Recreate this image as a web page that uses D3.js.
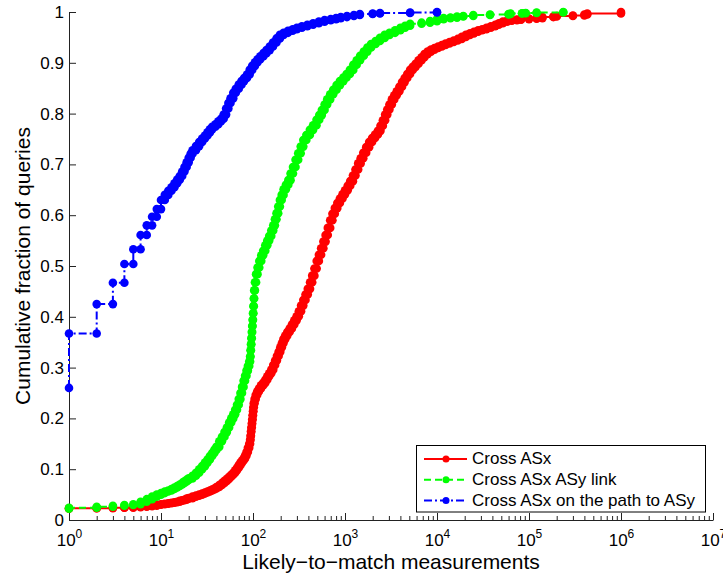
<!DOCTYPE html>
<html>
<head>
<meta charset="utf-8">
<script src="https://cdn.jsdelivr.net/npm/d3@7"></script>
<style>
  html, body { margin: 0; padding: 0; background: #fff; }
  svg { display: block; }
  text { font-family: "Liberation Sans", Arial, Helvetica, sans-serif; fill: #000; }
</style>
</head>
<body>
<svg id="chart" width="723" height="575"></svg>
<script>
// Empirical CDFs of likely-to-match measurements per query.
// Each entry: [measurement count, cumulative fraction of queries at that count].
// The *ZeroFrac values are the fractions of queries with zero measurements.
const redZeroFrac = 0.022;
const redCdf = [
  [1,0.023],[2,0.023],[3,0.024],[4,0.024],[5,0.025],[6,0.026],[7,0.027],[8,0.028],[9,0.030],[10,0.031],
  [11,0.032],[12,0.033],[13,0.034],[14,0.035],[15,0.036],[16,0.038],[17,0.039],[18,0.040],[19,0.042],[20,0.043],
  [22,0.046],[24,0.048],[26,0.050],[28,0.052],[30,0.054],[32,0.056],[34,0.058],[36,0.060],[38,0.062],[40,0.065],
  [43,0.069],[46,0.073],[49,0.077],[52,0.081],[55,0.085],[58,0.089],[61,0.093],[64,0.098],[67,0.103],[70,0.108],
  [73,0.113],[76,0.117],[79,0.121],[82,0.127],[85,0.134],[88,0.142],[91,0.150],[93,0.158],[94,0.166],[95,0.174],
  [96,0.182],[97,0.190],[98,0.198],[99,0.206],[100,0.214],[101,0.222],[102,0.230],[104,0.238],[107,0.246],[111,0.253],
  [116,0.259],[122,0.265],[129,0.270],[136,0.276],[143,0.283],[150,0.289],[158,0.296],[166,0.305],[174,0.314],[182,0.323],
  [190,0.331],[198,0.340],[206,0.348],[214,0.356],[224,0.363],[236,0.370],[250,0.377],[265,0.385],[281,0.393],[298,0.401],
  [315,0.411],[333,0.422],[352,0.433],[372,0.444],[394,0.455],[417,0.468],[440,0.481],[465,0.495],[492,0.510],[520,0.522],
  [550,0.535],[582,0.548],[615,0.561],[650,0.575],[690,0.590],[730,0.603],[775,0.614],[825,0.624],[880,0.633],[940,0.641],
  [1000,0.649],[1070,0.658],[1140,0.667],[1220,0.678],[1300,0.690],[1390,0.702],[1480,0.712],[1580,0.723],[1700,0.734],[1830,0.744],
  [1970,0.752],[2120,0.759],[2280,0.766],[2430,0.776],[2580,0.787],[2730,0.798],[2880,0.808],[3040,0.818],[3230,0.828],[3430,0.836],
  [3650,0.844],[3900,0.853],[4170,0.862],[4450,0.870],[4750,0.878],[5100,0.886],[5450,0.892],[5850,0.898],[6300,0.905],[6800,0.911],
  [7300,0.917],[7900,0.922],[8600,0.926],[9400,0.929],[10300,0.932],[11300,0.935],[12400,0.938],[13700,0.941],[15200,0.944],[16800,0.947],
  [18600,0.951],[20600,0.955],[22800,0.958],[25200,0.961],[28000,0.964],[31000,0.966],[34500,0.969],[38500,0.972],[43000,0.975],[47000,0.978],
  [52000,0.981],[58000,0.983],[65000,0.984],[74000,0.985],[82000,0.986],[100000,0.987],[121000,0.988],[140000,0.990],[184000,0.991],[200000,0.992],
  [300000,0.993],[400000,0.995],[430000,0.997],[1000000,1.0]
];

const greenZeroFrac = 0.022;
const greenCdf = [
  [1,0.024],[2,0.026],[3,0.028],[4,0.0295],[5,0.031],[6,0.036],[7,0.041],[8,0.046],[9,0.050],[10,0.053],
  [11,0.056],[12,0.058],[13,0.061],[14,0.064],[15,0.067],[16,0.070],[17,0.073],[18,0.076],[19,0.079],[20,0.082],
  [22,0.087],[24,0.093],[26,0.100],[28,0.106],[30,0.113],[32,0.119],[34,0.126],[36,0.132],[38,0.138],[40,0.144],
  [43,0.155],[46,0.164],[49,0.173],[52,0.182],[55,0.192],[58,0.200],[61,0.208],[64,0.217],[67,0.227],[70,0.238],
  [73,0.250],[76,0.262],[79,0.274],[82,0.284],[85,0.294],[88,0.303],[91,0.312],[93,0.322],[94,0.334],[95,0.346],
  [96,0.358],[97,0.370],[98,0.382],[99,0.394],[100,0.407],[101,0.421],[102,0.436],[103,0.452],[105,0.468],[108,0.484],
  [112,0.497],[117,0.510],[123,0.521],[129,0.530],[136,0.541],[143,0.550],[150,0.559],[158,0.570],[166,0.580],[173,0.592],
  [180,0.604],[188,0.617],[196,0.630],[205,0.640],[215,0.651],[228,0.660],[242,0.669],[256,0.682],[272,0.695],[290,0.709],
  [310,0.722],[330,0.735],[352,0.748],[380,0.758],[415,0.768],[450,0.777],[490,0.788],[525,0.797],[560,0.807],[600,0.818],
  [640,0.828],[690,0.838],[745,0.847],[810,0.856],[880,0.864],[960,0.871],[1040,0.878],[1130,0.886],[1230,0.896],[1340,0.905],
  [1460,0.914],[1600,0.922],[1750,0.930],[1920,0.937],[2150,0.943],[2400,0.949],[2700,0.955],[3050,0.959],[3500,0.964],[4000,0.969],
  [4500,0.973],[5100,0.977],[6800,0.979],[8400,0.982],[10000,0.986],[11800,0.988],[14000,0.989],[16500,0.991],[19300,0.992],[24800,0.994],
  [37700,0.995],[60000,0.996],[63000,0.997],[84000,0.9975],[92000,0.998],[121000,0.999],[236000,1.0]
];

const blueZeroFrac = 0.26;
const blueCdf = [
  [1,0.367],[2,0.425],[3,0.467],[4,0.504],[5,0.533],[6,0.561],[7,0.580],[8,0.597],[9,0.612],[10,0.630],
  [11,0.640],[12,0.648],[13,0.655],[14,0.663],[15,0.670],[16,0.677],[17,0.686],[18,0.695],[19,0.704],[20,0.713],
  [21,0.721],[22,0.728],[24,0.736],[26,0.744],[28,0.751],[30,0.757],[32,0.763],[34,0.769],[36,0.774],[39,0.779],
  [42,0.785],[45,0.790],[48,0.798],[51,0.810],[54,0.821],[57,0.830],[61,0.841],[65,0.849],[70,0.857],[75,0.864],
  [80,0.870],[86,0.877],[92,0.886],[98,0.894],[105,0.901],[112,0.907],[120,0.913],[130,0.919],[140,0.925],[152,0.932],
  [165,0.940],[180,0.948],[196,0.955],[215,0.959],[240,0.963],[270,0.966],[300,0.969],[340,0.972],[390,0.975],[450,0.978],
  [520,0.981],[600,0.984],[700,0.986],[800,0.988],[900,0.990],[1050,0.992],[1250,0.994],[1450,0.996],[2000,0.997],[2400,0.998],
  [5100,0.999],[10000,1.0]
];

const seriesNames = ["Cross ASx", "Cross ASx ASy link", "Cross ASx on the path to ASy"];
const yTicks = [0, 0.1, 0.2, 0.3, 0.4, 0.5, 0.6, 0.7, 0.8, 0.9, 1];
const yTickLabels = ["0", "0.1", "0.2", "0.3", "0.4", "0.5", "0.6", "0.7", "0.8", "0.9", "1"];
const xDecadeExponents = ["0", "1", "2", "3", "4", "5", "6", "7"];
const xAxisTitle = "Likely\u2212to\u2212match measurements";
const yAxisTitle = "Cumulative fraction of queries";

// ---- layout ----
const plot = { left: 69, right: 713, top: 12, bottom: 520 };
const svg = d3.select("#chart");

const x = d3.scaleLog().domain([1, 1e7]).range([plot.left, plot.right]);
const y = d3.scaleLinear().domain([0, 1]).range([plot.bottom, plot.top]);

// Stair-step corners of an empirical CDF (cdfplot style)
function stairs(zeroFrac, cdf) {
  const pts = [];
  let prev = zeroFrac;
  cdf.forEach(([v, f]) => {
    pts.push([v, prev]);
    pts.push([v, f]);
    prev = f;
  });
  return pts;
}

const series = [
  { name: seriesNames[0], pts: stairs(redZeroFrac, redCdf),     color: "#ff0000", dash: null },
  { name: seriesNames[1], pts: stairs(greenZeroFrac, greenCdf), color: "#00ff00", dash: "7,4" },
  { name: seriesNames[2], pts: stairs(blueZeroFrac, blueCdf),   color: "#0000ff", dash: "8,3,2,3" }
];

const lineGen = d3.line().x(d => x(d[0])).y(d => y(d[1]));
const markerR = 4.3;

// ---- axes ----
const fontFamily = '"Liberation Sans", Arial, Helvetica, sans-serif';

const yAxis = d3.axisLeft(y)
  .tickValues(yTicks)
  .tickFormat((d, i) => yTickLabels[i])
  .tickSize(-7)
  .tickSizeOuter(0)
  .tickPadding(5);

const gy = svg.append("g")
  .attr("transform", `translate(${plot.left},0)`)
  .call(yAxis);
gy.attr("font-size", 17).attr("font-family", fontFamily);
gy.selectAll("path, line").attr("stroke", "#222");

const xTickVals = x.ticks();
const isMajor = v => Math.abs(Math.log10(v) - Math.round(Math.log10(v))) < 1e-9;

const xAxis = d3.axisBottom(x)
  .tickValues(xTickVals)
  .tickFormat("")
  .tickSize(-7)
  .tickSizeOuter(0);

const gx = svg.append("g")
  .attr("transform", `translate(0,${plot.bottom})`)
  .call(xAxis);
gx.attr("font-family", fontFamily);
gx.selectAll("path, line").attr("stroke", "#222");
gx.selectAll(".tick line").attr("y2", d => isMajor(d) ? -7 : -4);
gx.selectAll(".tick text").remove();

// Decade labels as 10 with superscript exponent
gx.selectAll(".tick")
  .filter(d => isMajor(d))
  .append("text")
  .attr("y", 26)
  .attr("text-anchor", "middle")
  .attr("font-size", 17)
  .each(function (d) {
    const t = d3.select(this);
    const e = xDecadeExponents[Math.round(Math.log10(d))];
    t.append("tspan").text("10");
    t.append("tspan").attr("dy", -8).attr("font-size", 12).text(e);
  });

// Axis titles
svg.append("text")
  .attr("x", (plot.left + plot.right) / 2)
  .attr("y", 569)
  .attr("text-anchor", "middle")
  .attr("font-size", 21)
  .text(xAxisTitle);

svg.append("text")
  .attr("transform", `translate(30,${(plot.top + plot.bottom) / 2}) rotate(-90)`)
  .attr("text-anchor", "middle")
  .attr("font-size", 21)
  .text(yAxisTitle);

// ---- series ----
series.forEach(s => {
  const g = svg.append("g");
  g.append("path")
    .attr("d", lineGen(s.pts))
    .attr("fill", "none")
    .attr("stroke", s.color)
    .attr("stroke-width", 2)
    .attr("stroke-dasharray", s.dash);
  g.selectAll("circle")
    .data(s.pts)
    .join("circle")
    .attr("cx", d => x(d[0]))
    .attr("cy", d => y(d[1]))
    .attr("r", markerR)
    .attr("fill", s.color);
});

// ---- legend ----
const legend = svg.append("g");
legend.append("rect")
  .attr("x", 416.5).attr("y", 445.5)
  .attr("width", 289).attr("height", 66.5)
  .attr("fill", "#fff")
  .attr("stroke", "#000")
  .attr("stroke-width", 1);

series.forEach((s, i) => {
  const cy = 459 + i * 20.8;
  legend.append("line")
    .attr("x1", 424).attr("x2", 467)
    .attr("y1", cy).attr("y2", cy)
    .attr("stroke", s.color)
    .attr("stroke-width", 2)
    .attr("stroke-dasharray", s.dash);
  legend.append("circle")
    .attr("cx", 446).attr("cy", cy).attr("r", 3.5)
    .attr("fill", s.color);
  legend.append("text")
    .attr("x", 472).attr("y", cy + 5)
    .attr("font-size", 17)
    .text(s.name);
});
</script>
</body>
</html>
